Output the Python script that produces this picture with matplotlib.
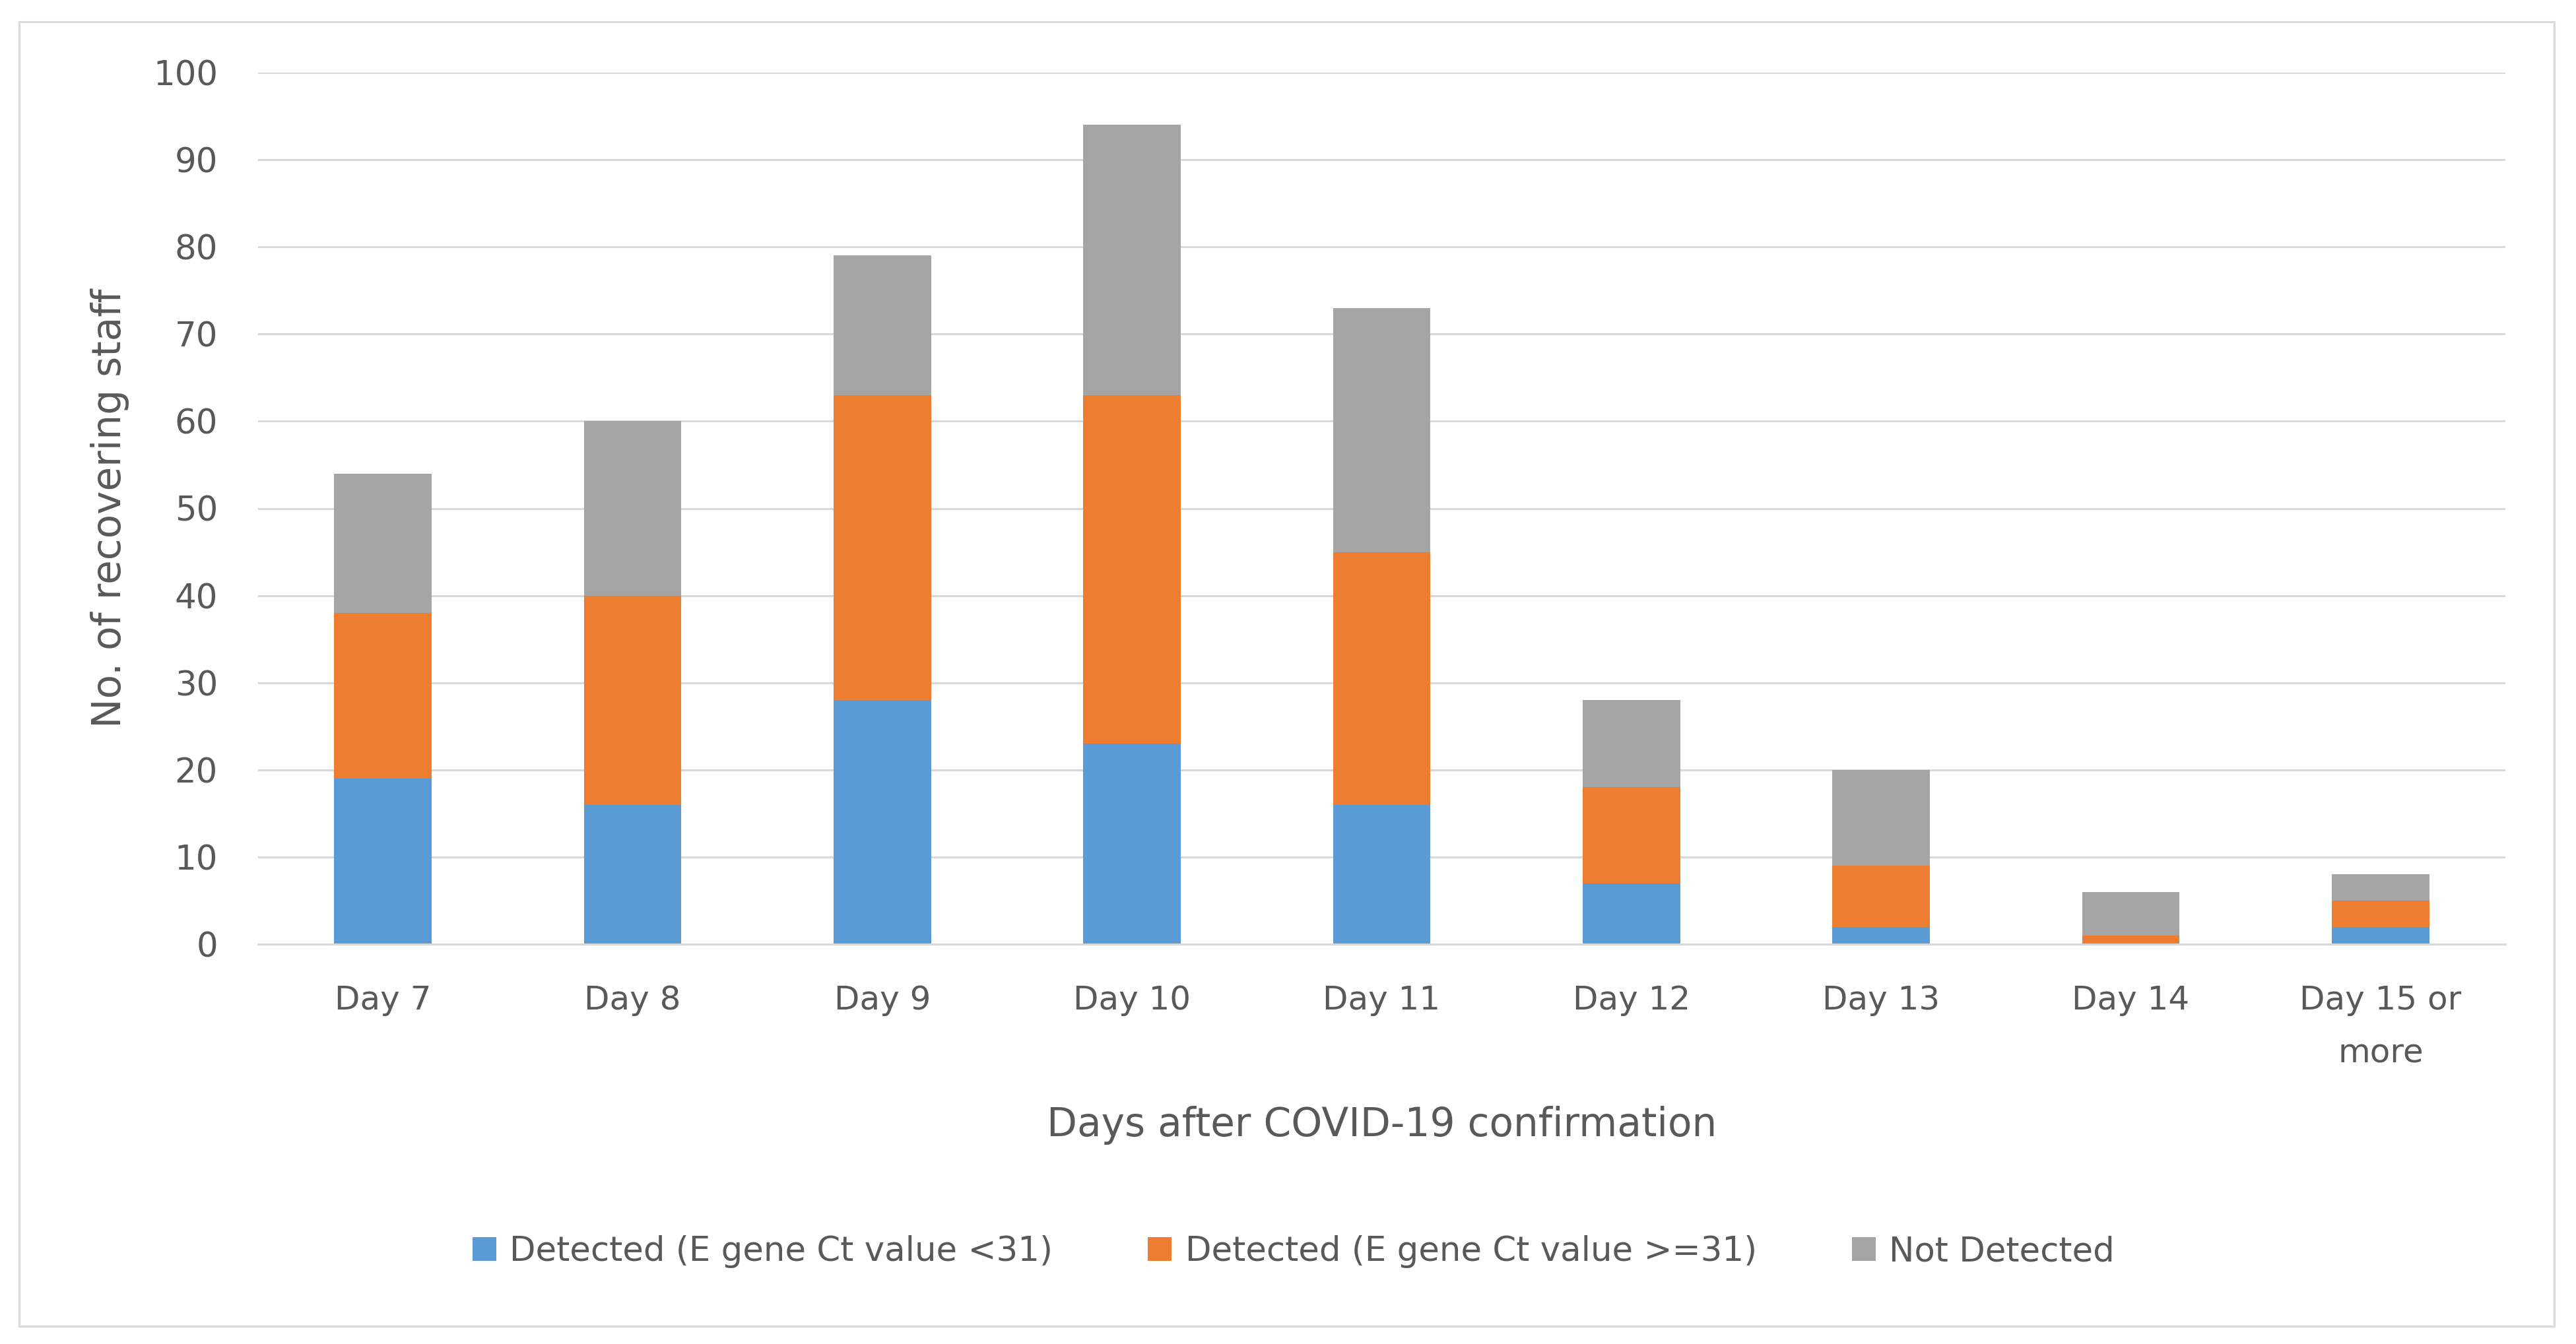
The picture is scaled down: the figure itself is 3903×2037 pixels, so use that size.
import matplotlib
matplotlib.use("Agg")
import matplotlib.pyplot as plt
from matplotlib.patches import Rectangle

categories = ["Day 7", "Day 8", "Day 9", "Day 10", "Day 11", "Day 12", "Day 13", "Day 14", "Day 15 or\nmore"]
detected_low = [19, 16, 28, 23, 16, 7, 2, 0, 2]
detected_high = [19, 24, 35, 40, 29, 11, 7, 1, 3]
not_detected = [16, 20, 16, 31, 28, 10, 11, 5, 3]
series_names = ["Detected (E gene Ct value <31)", "Detected (E gene Ct value >=31)", "Not Detected"]
yticks = [0, 10, 20, 30, 40, 50, 60, 70, 80, 90, 100]

colors = ["#5B9BD5", "#ED7D31", "#A5A5A5"]
text_color = "#595959"
grid_color = "#D9D9D9"
plt.rcParams['font.family'] = ['DejaVu Sans']

W, H = 3903, 2037
fig = plt.figure(figsize=(W / 100, H / 100), dpi=100)
fig.patch.set_facecolor("white")

# outer border
fig.add_artist(Rectangle((29 / W, 1 - 2010 / H), (3870 - 29) / W, (2010 - 33) / H,
                         transform=fig.transFigure, fill=False, edgecolor=grid_color, linewidth=2.2))

left, right = 391 / W, 3796 / W
top, bottom = 1 - 110 / H, 1 - 1431 / H
ax = fig.add_axes([left, bottom, right - left, top - bottom])

x = list(range(len(categories)))
width = 0.39
b1 = ax.bar(x, detected_low, width, color=colors[0], label=series_names[0], zorder=3)
bottoms2 = detected_low
b2 = ax.bar(x, detected_high, width, bottom=bottoms2, color=colors[1], label=series_names[1], zorder=3)
bottoms3 = [a + b for a, b in zip(detected_low, detected_high)]
b3 = ax.bar(x, not_detected, width, bottom=bottoms3, color=colors[2], label=series_names[2], zorder=3)

ax.set_xlim(-0.5, len(categories) - 0.5)
ax.set_ylim(0, 100)
ax.set_yticks(yticks)
ax.yaxis.grid(True, color=grid_color, linewidth=2.2, zorder=0)
ax.set_axisbelow(True)
for s in ["top", "right", "left"]:
    ax.spines[s].set_visible(False)
ax.spines["bottom"].set_color(grid_color)
ax.spines["bottom"].set_linewidth(2.2)
ax.spines["bottom"].set_zorder(4)

ax.set_xticks(x)
ax.set_xticklabels(categories, linespacing=1.85)
ax.tick_params(axis="x", length=0, colors=text_color, labelsize=36, pad=44)
ax.tick_params(axis="y", length=0, colors=text_color, labelsize=37, pad=44)
for lbl in ax.get_xticklabels() + ax.get_yticklabels():
    lbl.set_color(text_color)

ax.set_ylabel("No. of recovering staff", fontsize=43, color=text_color, labelpad=26)
ax.set_xlabel("Days after COVID-19 confirmation", fontsize=43, color=text_color, labelpad=40)

leg = fig.legend(handles=[b1, b2, b3], labels=series_names, loc="center",
                 bbox_to_anchor=(1960 / W, 1 - 1897 / H), ncol=3, frameon=False,
                 fontsize=37, handlelength=0.7, handleheight=0.7, columnspacing=2.8,
                 handletextpad=0.4, labelcolor=text_color)

fig.savefig("out.png", dpi=100, facecolor="white")
